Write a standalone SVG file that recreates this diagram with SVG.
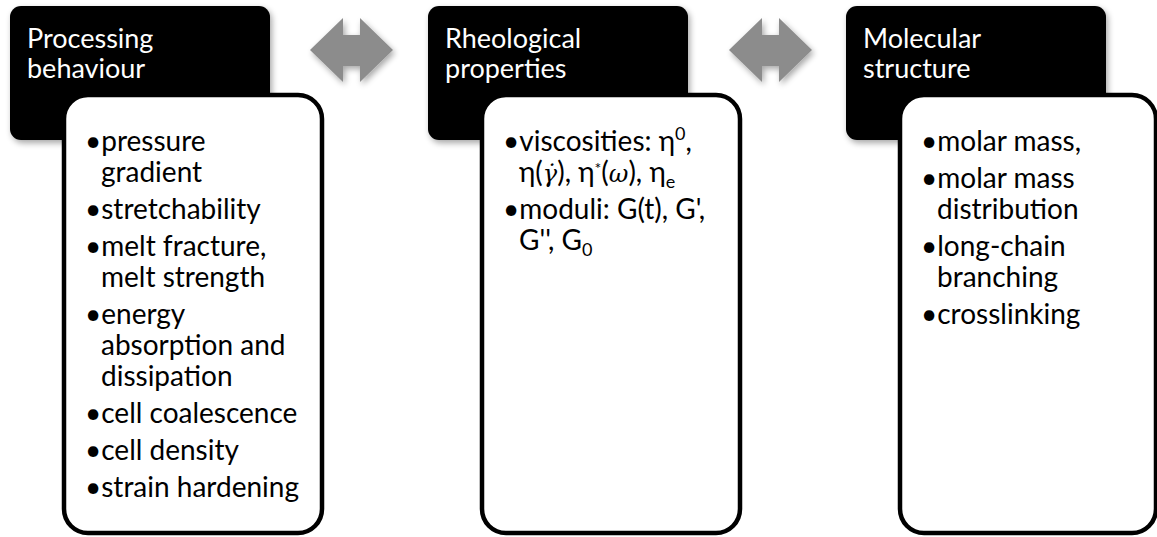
<svg xmlns="http://www.w3.org/2000/svg" width="1157" height="537" viewBox="0 0 1157 537">
<style>
.hdr{font-family:Lato,"Open Sans","Liberation Sans",sans-serif;font-size:27px;fill:#fff}
.body{font-family:Lato,"Open Sans","Liberation Sans",sans-serif;font-size:28px;fill:#000}
.blk{fill:#000}
.wht{fill:#fff;stroke:#000;stroke-width:4.5}
.arr{fill:#8c8c8c}
.m{font-family:"DejaVu Serif","Liberation Serif",serif;font-style:italic;font-size:24px}
.sup{font-size:18px}
.ast{font-size:16px}
</style>
<defs>
<filter id="sh" x="-10%" y="-10%" width="130%" height="130%">
<feGaussianBlur in="SourceAlpha" stdDeviation="3"/>
<feOffset dx="2" dy="3" result="o"/>
<feComponentTransfer><feFuncA type="linear" slope="0.35"/></feComponentTransfer>
<feMerge><feMergeNode/><feMergeNode in="SourceGraphic"/></feMerge>
</filter>
</defs>
<rect width="1157" height="537" fill="#fff"/>

<g id="connectors">
<polygon class="arr" filter="url(#sh)" points="310,50 343,18 343,35 360,35 360,18 393,50 360,82 360,66 343,66 343,82"/>
<polygon class="arr" filter="url(#sh)" points="729,50 762,18 762,35 779,35 779,18 812,50 779,82 779,66 762,66 762,82"/>
</g>

<g id="node-processing">
<g id="processing-header">
<rect class="blk" filter="url(#sh)" x="10" y="6" width="260" height="134" rx="11"/>
<text class="hdr" x="27" y="48">Processing<tspan x="27" dy="30">behaviour</tspan></text>
</g>
<g id="processing-list">
<rect class="wht" x="64" y="95" width="258" height="438" rx="24"/>
<text class="body" x="85" y="151">•pressure<tspan x="101" dy="31">gradient</tspan></text>
<text class="body" x="85" y="219">•stretchability</text>
<text class="body" x="85" y="256">•melt fracture,<tspan x="101" dy="31">melt strength</tspan></text>
<text class="body" x="85" y="324">•energy<tspan x="101" dy="31">absorption and</tspan><tspan x="101" dy="31">dissipation</tspan></text>
<text class="body" x="85" y="423">•cell coalescence</text>
<text class="body" x="85" y="460">•cell density</text>
<text class="body" x="85" y="497">•strain hardening</text>
</g>
</g>

<g id="node-rheological">
<g id="rheological-header">
<rect class="blk" filter="url(#sh)" x="428" y="6" width="260" height="134" rx="11"/>
<text class="hdr" x="445" y="48">Rheological<tspan x="445" dy="30">properties</tspan></text>
</g>
<g id="rheological-list">
<rect class="wht" x="482" y="95" width="258" height="438" rx="24"/>
<text class="body" x="503" y="151">•viscosities: η<tspan class="sup" dy="-11">0</tspan><tspan dy="11">,</tspan><tspan x="519" dy="31">η(</tspan><tspan class="m">γ̇</tspan><tspan>), η</tspan><tspan class="ast" dy="-8">*</tspan><tspan dy="8">(</tspan><tspan class="m">ω</tspan><tspan>), η</tspan><tspan class="sup" dy="6">e</tspan></text>
<text class="body" x="503" y="219">•moduli: G(t), G',<tspan x="519" dy="31">G'', G</tspan><tspan class="sup" dy="6">0</tspan></text>
</g>
</g>

<g id="node-molecular">
<g id="molecular-header">
<rect class="blk" filter="url(#sh)" x="846" y="6" width="260" height="134" rx="11"/>
<text class="hdr" x="863" y="48">Molecular<tspan x="863" dy="30">structure</tspan></text>
</g>
<g id="molecular-list">
<rect class="wht" x="900" y="95" width="256" height="438" rx="24"/>
<text class="body" x="921" y="151">•molar mass,</text>
<text class="body" x="921" y="188">•molar mass<tspan x="937" dy="31">distribution</tspan></text>
<text class="body" x="921" y="256">•long-chain<tspan x="937" dy="31">branching</tspan></text>
<text class="body" x="921" y="324">•crosslinking</text>
</g>
</g>
</svg>
